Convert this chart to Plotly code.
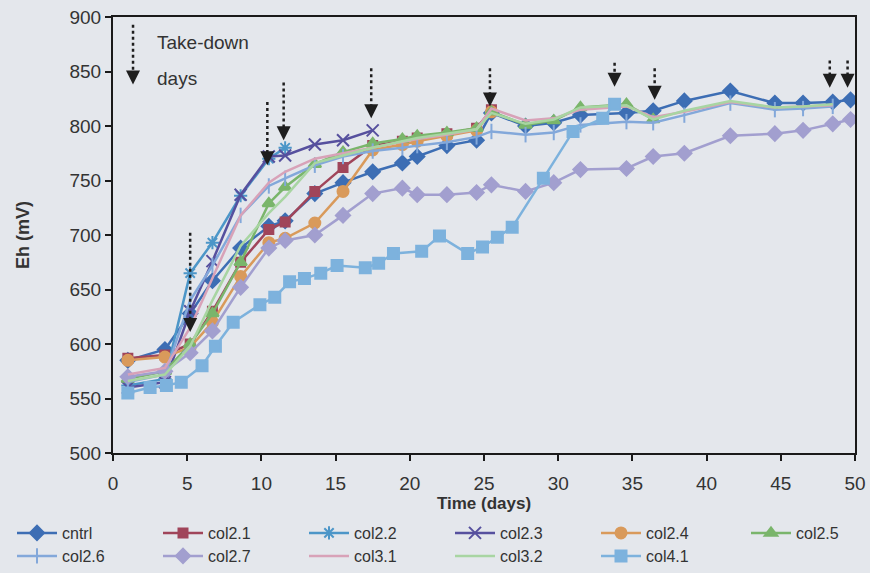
import plotly.graph_objects as go

# ---------------- data ----------------
days_full = [1, 3.5, 5.2, 6.7, 8.6, 10.5, 11.6, 13.6, 15.5, 17.5, 19.5, 20.5, 22.5,
             24.5, 25.5, 27.8, 29.7, 31.5, 34.6, 36.4, 38.5, 41.6, 44.6, 46.5, 48.5, 49.7]

cntrl = [585, 595, 628, 658, 688, 708, 713, 738, 748, 758, 766, 772, 782, 787, 812,
         800, 803, 810, 812, 814, 823, 832, 821, 821, 822, 824]
col2_7 = [570, 575, 592, 612, 652, 688, 695, 700, 718, 738, 743, 737, 737, 739, 746,
          740, 748, 760, 761, 772, 775, 791, 793, 796, 802, 806]

days_25 = days_full[:15]
col2_1 = [587, 590, 600, 630, 675, 705, 712, 740, 762, 782, 786, 789, 793, 798, 815]
col2_4 = [585, 588, 597, 620, 662, 693, 697, 711, 740, 778, 783, 786, 791, 796, 813]

days_36 = days_full[:20]
col2_5 = [568, 575, 600, 628, 675, 729, 744, 765, 776, 784, 788, 791, 794, 798, 813,
          801, 805, 817, 820, 806]

days_48 = days_full[:25]
col2_6 = [565, 572, 640, 672, 718, 745, 752, 764, 772, 777, 780, 782, 785, 790, 795,
          792, 794, 801, 804, 803, 810, 821, 815, 816, 818]
col3_1 = [572, 578, 615, 660, 718, 748, 758, 770, 775, 780, 785, 788, 792, 797, 816,
          805, 807, 815, 818, 808, 813, 822, 817, 818, 819]
col3_2 = [566, 572, 598, 640, 690, 720, 735, 766, 773, 780, 786, 789, 793, 797, 812,
          802, 806, 817, 819, 806, 814, 823, 817, 818, 820]

days_11 = days_full[:7]
col2_2 = [562, 568, 665, 693, 736, 770, 780]

days_17 = days_full[:10]
col2_3 = [560, 565, 630, 676, 737, 772, 773, 783, 787, 796]

days_41 = [1, 2.5, 3.6, 4.6, 6, 6.9, 8.1, 9.9, 10.9, 11.9, 12.9, 14, 15.1, 17, 17.9,
           18.9, 20.8, 22, 23.9, 24.9, 25.9, 26.9, 29, 31, 33, 33.8]
col4_1 = [555, 560, 562, 565, 580, 598, 620, 636, 643, 657, 660, 665, 672, 670, 674,
          683, 685, 699, 683, 689, 698, 707, 752, 795, 807, 820]

# take-down arrows: day, top of dotted line, tip of arrow head (mV)
arrow_days = [1.35, 5.2, 10.4, 11.5, 17.4, 25.4, 33.8, 36.5, 48.3, 49.5]
arrow_top = [893, 702, 822, 840, 853, 853, 858, 853, 860, 860]
arrow_tip = [838, 611, 764, 787, 807, 818, 836, 824, 835, 835]

x_ticks = [0, 5, 10, 15, 20, 25, 30, 35, 40, 45, 50]
y_ticks = [500, 550, 600, 650, 700, 750, 800, 850, 900]

# ---------------- figure ----------------
# legend slot for each series: (left edge px, top px) in the 870x573 page
series = [
    ("cntrl", days_full, cntrl, "#3D6EB4", "diamond", 11, (12, 516)),
    ("col2.1", days_25, col2_1, "#A0455A", "square", 9, (158, 516)),
    ("col2.2", days_11, col2_2, "#4C96C8", "asterisk-open", 11, (304, 516)),
    ("col2.3", days_17, col2_3, "#56509E", "x-thin-open", 12, (450, 516)),
    ("col2.4", days_25, col2_4, "#D99A5B", "circle", 11, (596, 516)),
    ("col2.5", days_36, col2_5, "#7AB56B", "triangle-up", 11, (746, 516)),
    ("col2.6", days_48, col2_6, "#83A8DA", "line-ns-open", 11, (12, 539)),
    ("col2.7", days_full, col2_7, "#A29FCF", "diamond", 11, (158, 539)),
    ("col3.1", days_48, col3_1, "#D8A2B8", None, 0, (304, 539)),
    ("col3.2", days_48, col3_2, "#A8D5A2", None, 0, (450, 539)),
    ("col4.1", days_41, col4_1, "#7DB2DD", "square", 11, (596, 539)),
]

W, H = 870, 573
bg = "#E4E7EC"
txt = "#333333"

fig = go.Figure()
legend_layouts = {}
for i, (name, xs, ys, color, sym, size, slot) in enumerate(series):
    lname = "legend" if i == 0 else f"legend{i + 1}"
    kw = dict(x=xs, y=ys, name=name, legend=lname, line=dict(color=color, width=2.5))
    if sym is None:
        fig.add_trace(go.Scatter(mode="lines", **kw))
    else:
        fig.add_trace(go.Scatter(mode="lines+markers",
                                 marker=dict(symbol=sym, size=size, color=color,
                                             line=dict(color=color, width=2)), **kw))
    legend_layouts[lname] = dict(
        orientation="h", xref="container", yref="container",
        x=slot[0] / W, y=1 - slot[1] / H, xanchor="left", yanchor="top",
        font=dict(size=16, color=txt), bgcolor="rgba(0,0,0,0)", itemwidth=40)

# dotted arrow shafts
shaft_x, shaft_y = [], []
for d, t, tip in zip(arrow_days, arrow_top, arrow_tip):
    shaft_x += [d, d, None]
    shaft_y += [t, tip + 8, None]
fig.add_trace(go.Scatter(x=shaft_x, y=shaft_y, mode="lines", showlegend=False,
                         line=dict(color="#1E1E1E", width=2.5, dash="dot"),
                         hoverinfo="skip"))
fig.add_trace(go.Scatter(x=arrow_days, y=arrow_tip, mode="markers", showlegend=False,
                         marker=dict(symbol="arrow-down", size=14, color="#1E1E1E",
                                     line=dict(width=0)),
                         hoverinfo="skip"))

axis_common = dict(showline=True, linecolor="#1A1A1A", linewidth=2, mirror=True,
                   ticks="outside", ticklen=6, tickwidth=2, tickcolor="#1A1A1A",
                   showgrid=False, zeroline=False,
                   tickfont=dict(family="Liberation Sans, Arial", size=19, color=txt))

fig.update_layout(
    width=W, height=H,
    margin=dict(l=113, r=15, t=17, b=120, autoexpand=False),
    paper_bgcolor=bg, plot_bgcolor=bg,
    font=dict(family="Liberation Sans, Arial", color=txt),
    xaxis=dict(range=[0, 50], tickvals=x_ticks, ticklabelstandoff=6,
               title=dict(text="<b>Time (days)</b>", font=dict(size=17, color=txt),
                          standoff=2),
               **axis_common),
    yaxis=dict(range=[500, 900], tickvals=y_ticks,
               title=dict(text="<b>Eh (mV)</b>", font=dict(size=18, color=txt),
                          standoff=35),
               **axis_common),
    showlegend=True,
    annotations=[
        dict(text="Take-down", x=2.8, y=877, xref="x", yref="y", showarrow=False,
             xanchor="left", font=dict(size=19, color=txt)),
        dict(text="days", x=2.8, y=844, xref="x", yref="y", showarrow=False,
             xanchor="left", font=dict(size=19, color=txt)),
    ],
    **legend_layouts,
)

fig.write_html("out.html")
